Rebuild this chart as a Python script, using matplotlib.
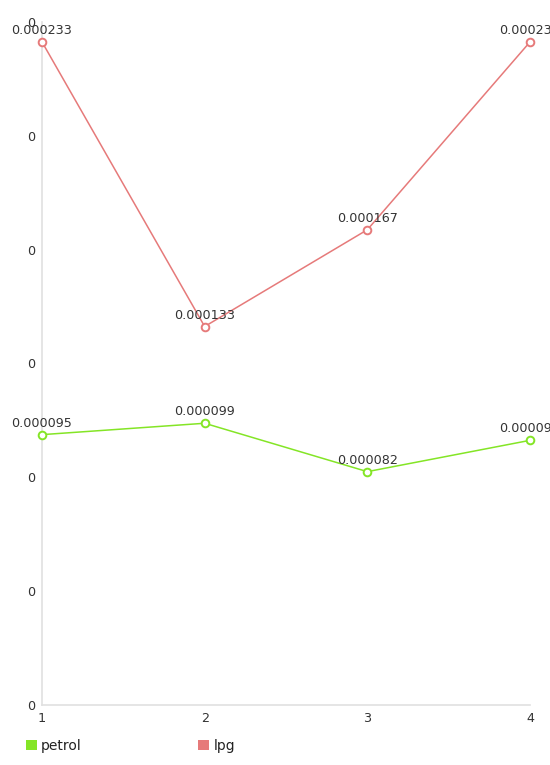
import matplotlib.pyplot as plt
from matplotlib.patches import Patch
from matplotlib.ticker import FuncFormatter, MultipleLocator

x = [1, 2, 3, 4]
petrol = [0.000095, 0.000099, 0.000082, 0.000093]
lpg = [0.000233, 0.000133, 0.000167, 0.000233]
series_names = ["petrol", "lpg"]
colors = {"petrol": "#84e526", "lpg": "#e67a7a"}

plt.rcParams['font.family'] = ['DejaVu Sans']

fig = plt.figure(figsize=(5.5, 7.65), dpi=100)
ax = fig.add_axes([42 / 550, 60 / 765, 488 / 550, 683 / 765])

for name, vals in zip(series_names, [petrol, lpg]):
    c = colors[name]
    ax.plot(x, vals, color=c, lw=1.1, marker='o', ms=5.5, mfc='white',
            mec=c, mew=1.4, clip_on=False, zorder=3)
    for xi, v in zip(x, vals):
        ax.annotate("{:.6f}".format(v), (xi, v), xytext=(0, 3.5),
                    textcoords='offset points', ha='center', va='bottom',
                    fontsize=9.2, color='#333333', annotation_clip=False)

ax.set_xlim(1, 4)
ax.set_ylim(0, 0.00024)
ax.xaxis.set_major_locator(MultipleLocator(1))
ax.yaxis.set_major_locator(MultipleLocator(0.00004))
ax.yaxis.set_major_formatter(FuncFormatter(lambda v, p: "{:.0f}".format(v)))
ax.tick_params(length=0, labelsize=9.2, colors='#333333')
ax.tick_params(axis='y', pad=5)
ax.tick_params(axis='x', pad=5)

for s in ['top', 'right']:
    ax.spines[s].set_visible(False)
for s in ['left', 'bottom']:
    ax.spines[s].set_color('#e0e0e0')
    ax.spines[s].set_linewidth(1.2)

handles = [Patch(facecolor=colors[n], edgecolor='none', label=n) for n in series_names]
fig.legend(handles=handles, loc='center left', bbox_to_anchor=(13 / 550, 1 - 746 / 765),
           ncol=2, frameon=False, fontsize=10, handlelength=0.8, handleheight=0.8,
           handletextpad=0.3, columnspacing=8.4, labelcolor='#222222')

plt.savefig("out.png")
plt.close()
